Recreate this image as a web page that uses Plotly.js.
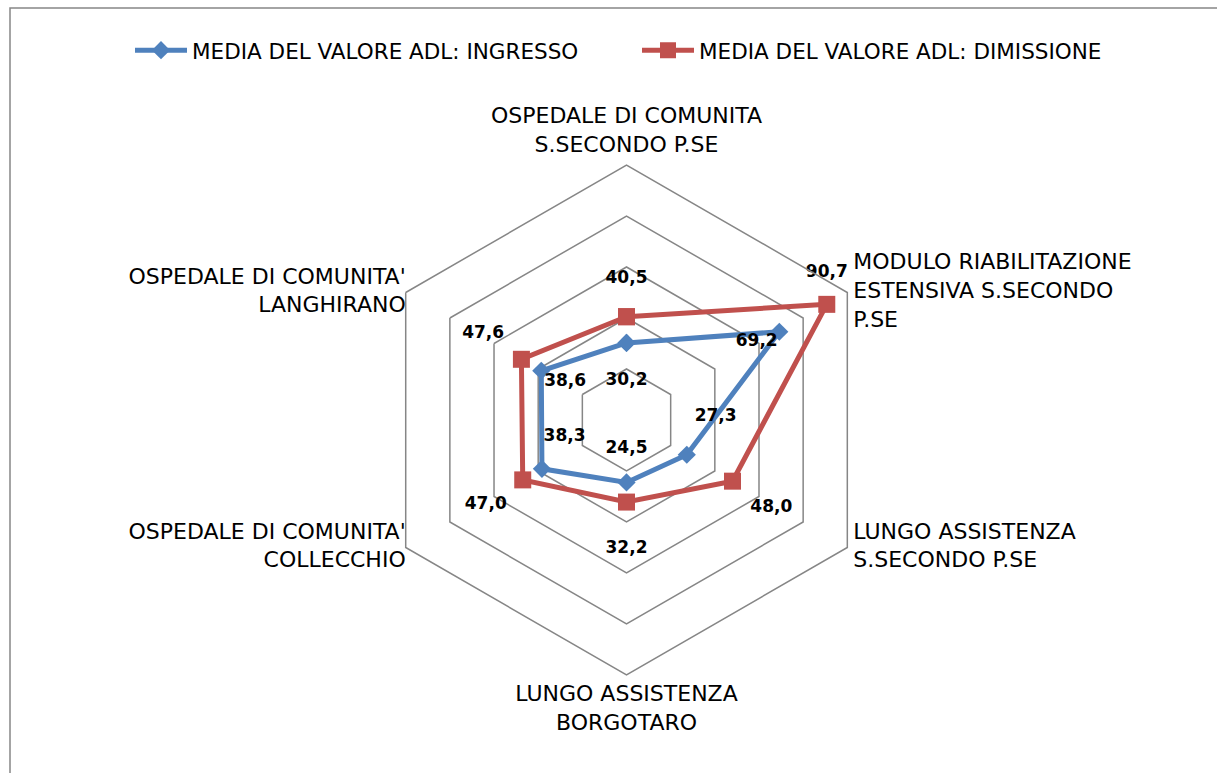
<!DOCTYPE html>
<html>
<head>
<meta charset="utf-8">
<script src="https://cdn.plot.ly/plotly-3.0.1.min.js"></script>
<style>
  html, body { margin: 0; padding: 0; background: #fff; }
  #chart { width: 1217px; height: 773px; }
</style>
</head>
<body>
<div id="chart"></div>
<script>
// reparti (asse angolare, in senso orario partendo dall'alto)
const categories = [
  "OSPEDALE DI COMUNITA S.SECONDO P.SE",
  "MODULO RIABILITAZIONE ESTENSIVA S.SECONDO P.SE",
  "LUNGO ASSISTENZA S.SECONDO P.SE",
  "LUNGO ASSISTENZA BORGOTARO",
  "OSPEDALE DI COMUNITA' COLLECCHIO",
  "OSPEDALE DI COMUNITA' LANGHIRANO"
];
const tickLabels = [
  "OSPEDALE DI COMUNITA<br>S.SECONDO P.SE",
  "MODULO RIABILITAZIONE<br>ESTENSIVA S.SECONDO<br>P.SE",
  "LUNGO ASSISTENZA<br>S.SECONDO P.SE",
  "LUNGO ASSISTENZA<br>BORGOTARO",
  "OSPEDALE DI COMUNITA'<br>COLLECCHIO",
  "OSPEDALE DI COMUNITA'<br>LANGHIRANO"
];

const ingresso = [30.2, 69.2, 27.3, 24.5, 38.3, 38.6];
const dimissione = [40.5, 90.7, 48.0, 32.2, 47.0, 47.6];

const seriesNames = [
  "MEDIA DEL VALORE ADL: INGRESSO",
  "MEDIA DEL VALORE ADL: DIMISSIONE"
];

const radialRange = [0, 100];

// posizione delle etichette dati (come in Excel)
const posIngresso = ["bottom center", "bottom left", "top right", "top center", "top right", "bottom right"];
const offIngresso = [46, 1, 11, 38, 1, 3];
const liftIngresso = [false, false, true, false, true, false];
const posDimissione = ["top center", "top center", "bottom right", "bottom center", "bottom left", "top left"];
const offDimissione = [46, 35, 27, 59, 24, 26];

// posizione delle etichette di categoria
const posCategorie = ["top center", "middle right", "middle right", "bottom center", "middle left", "middle left"];
const offCategorie = [11, 8, 8, 14, 0, 0];

const blue = "#4F81BD";
const red = "#C0504D";
const gridGray = "#868686";

function fmt(v) {
  return v.toFixed(1).replace(".", ",");
}

function closed(arr) {
  return arr.concat([arr[0]]);
}

function lineTrace(values, name, color, symbol, size) {
  return {
    type: "scatterpolar",
    r: closed(values),
    theta: closed(categories),
    mode: "lines+markers",
    name: name,
    line: { color: color, width: 5 },
    marker: { color: color, symbol: symbol, size: size, line: { width: 0 } },
    hoverinfo: "skip"
  };
}

// marker invisibile: serve solo a distanziare il testo dal punto
function spacer(sizes) {
  return { size: sizes, color: "rgba(0,0,0,0)", opacity: 1, line: { width: 0 } };
}

function labelTrace(values, positions, offsets, lift) {
  return {
    type: "scatterpolar",
    r: values,
    theta: categories,
    mode: "markers+text",
    showlegend: false,
    hoverinfo: "skip",
    cliponaxis: false,
    text: values.map((v, i) => fmt(v) + (lift && lift[i] ? "<br> " : "")),
    textposition: positions,
    textfont: { family: "DejaVu Sans", size: 17, color: "#000", weight: "bold" },
    marker: spacer(offsets)
  };
}

const categoryTrace = {
  type: "scatterpolar",
  r: categories.map(() => radialRange[1]),
  theta: categories,
  mode: "markers+text",
  showlegend: false,
  hoverinfo: "skip",
  cliponaxis: false,
  text: tickLabels,
  textposition: posCategorie,
  textfont: { family: "DejaVu Sans", size: 22, color: "#000" },
  marker: spacer(offCategorie)
};

const data = [
  lineTrace(ingresso, seriesNames[0], blue, "diamond", 14),
  lineTrace(dimissione, seriesNames[1], red, "square", 17),
  labelTrace(ingresso, posIngresso, offIngresso, liftIngresso),
  labelTrace(dimissione, posDimissione, offDimissione),
  categoryTrace
];

const layout = {
  width: 1217,
  height: 773,
  margin: { l: 0, r: 0, t: 0, b: 0 },
  paper_bgcolor: "#fff",
  font: { family: "DejaVu Sans", size: 20, color: "#000" },
  showlegend: true,
  legend: {
    orientation: "h",
    x: 130 / 1217,
    xanchor: "left",
    y: 0.935,
    yanchor: "middle",
    itemwidth: 52,
    entrywidth: 440,
    font: { family: "DejaVu Sans", size: 21.5, color: "#000" },
    bgcolor: "rgba(0,0,0,0)"
  },
  polar: {
    domain: { x: [0.3053, 0.7243], y: [0.1268, 0.7866] },
    bgcolor: "#fff",
    gridshape: "linear",
    radialaxis: {
      range: radialRange,
      dtick: 20,
      showticklabels: false,
      ticks: "",
      showline: false,
      gridcolor: gridGray,
      gridwidth: 1.5
    },
    angularaxis: {
      type: "category",
      categoryarray: categories,
      rotation: 90,
      direction: "clockwise",
      showticklabels: false,
      ticks: "",
      showgrid: false,
      showline: true,
      linecolor: gridGray,
      linewidth: 1.5
    }
  },
  shapes: [{
    type: "rect",
    xref: "paper", yref: "paper",
    x0: 10 / 1217, x1: 1.05,
    y0: -0.05, y1: 1 - 8 / 773,
    line: { color: gridGray, width: 1.5 },
    fillcolor: "rgba(0,0,0,0)"
  }]
};

Plotly.newPlot("chart", data, layout, { displayModeBar: false, staticPlot: true });
</script>
</body>
</html>
